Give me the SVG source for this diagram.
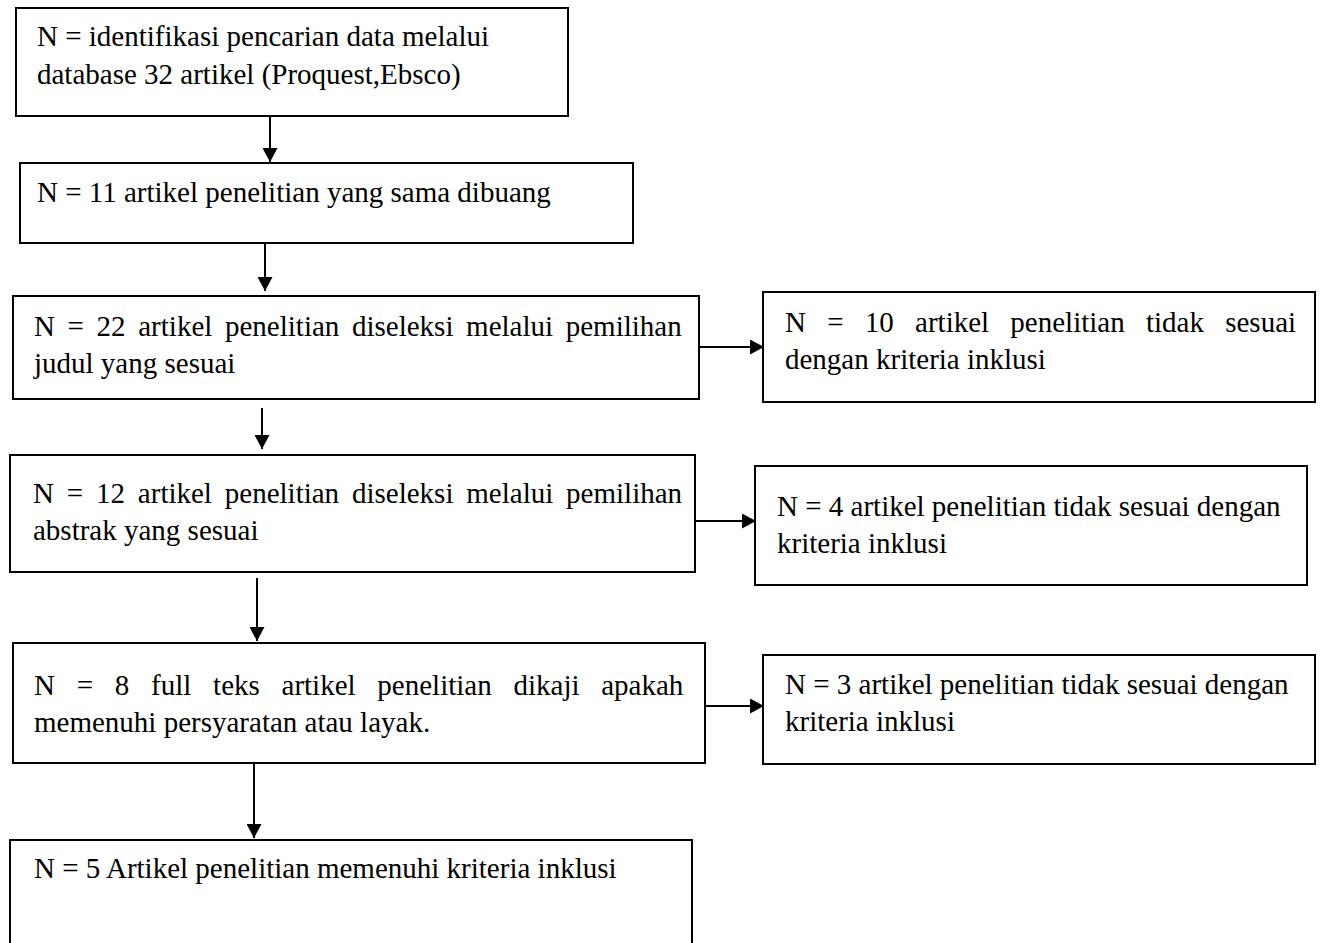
<svg xmlns="http://www.w3.org/2000/svg" width="1320" height="943" viewBox="0 0 1320 943">
<defs>
<style>
.box{fill:#fff;stroke:#000;stroke-width:2}
.t{font-family:"Liberation Serif","Times New Roman",serif;font-size:29px;fill:#000}
.c{stroke:#000;stroke-width:2;fill:none}
</style>
<marker id="ah" markerWidth="14" markerHeight="15" refX="14" refY="7.5" orient="auto" markerUnits="userSpaceOnUse">
<path d="M0,0 L14,7.5 L0,15 Z" fill="#000"/>
</marker>
</defs>
<rect width="1320" height="943" fill="#fff"/>
<g id="connectors">
<line class="c" x1="270" y1="116" x2="270" y2="162" marker-end="url(#ah)"/>
<line class="c" x1="265" y1="243" x2="265" y2="291" marker-end="url(#ah)"/>
<line class="c" x1="699" y1="347" x2="764" y2="347" marker-end="url(#ah)"/>
<line class="c" x1="262" y1="408" x2="262" y2="449" marker-end="url(#ah)"/>
<line class="c" x1="695" y1="521" x2="756" y2="521" marker-end="url(#ah)"/>
<line class="c" x1="257" y1="578" x2="257" y2="641" marker-end="url(#ah)"/>
<line class="c" x1="705" y1="706" x2="764" y2="706" marker-end="url(#ah)"/>
<line class="c" x1="254" y1="763" x2="254" y2="838" marker-end="url(#ah)"/>
</g>
<g id="n1">
<rect class="box" x="16" y="8" width="552" height="108"/>
<text class="t" x="37" y="46">N = identifikasi pencarian data melalui</text>
<text class="t" x="37" y="84">database 32 artikel (Proquest,Ebsco)</text>
</g>
<g id="n2">
<rect class="box" x="20" y="163" width="613" height="80"/>
<text class="t" x="37" y="202">N = 11 artikel penelitian yang sama dibuang</text>
</g>
<g id="n3">
<rect class="box" x="13" y="296" width="686" height="103"/>
<text class="t" x="34" y="336" word-spacing="5.4">N = 22 artikel penelitian diseleksi melalui pemilihan</text>
<text class="t" x="34" y="373">judul yang sesuai</text>
</g>
<g id="n4">
<rect class="box" x="763" y="292" width="552" height="110"/>
<text class="t" x="785" y="332" word-spacing="14">N = 10 artikel penelitian tidak sesuai</text>
<text class="t" x="785" y="369">dengan kriteria inklusi</text>
</g>
<g id="n5">
<rect class="box" x="10" y="455" width="685" height="117"/>
<text class="t" x="33" y="503" word-spacing="5.6">N = 12 artikel penelitian diseleksi melalui pemilihan</text>
<text class="t" x="33" y="540">abstrak yang sesuai</text>
</g>
<g id="n6">
<rect class="box" x="755" y="466" width="552" height="119"/>
<text class="t" x="777" y="516">N = 4 artikel penelitian tidak sesuai dengan</text>
<text class="t" x="777" y="553">kriteria inklusi</text>
</g>
<g id="n7">
<rect class="box" x="13" y="643" width="692" height="120"/>
<text class="t" x="34" y="695" word-spacing="14.5">N = 8 full teks artikel penelitian dikaji apakah</text>
<text class="t" x="34" y="732">memenuhi persyaratan atau layak.</text>
</g>
<g id="n8">
<rect class="box" x="763" y="655" width="552" height="109"/>
<text class="t" x="785" y="694">N = 3 artikel penelitian tidak sesuai dengan</text>
<text class="t" x="785" y="731">kriteria inklusi</text>
</g>
<g id="n9">
<rect class="box" x="10" y="840" width="682" height="106"/>
<text class="t" x="34" y="878">N = 5 Artikel penelitian memenuhi kriteria inklusi</text>
</g>
</svg>
